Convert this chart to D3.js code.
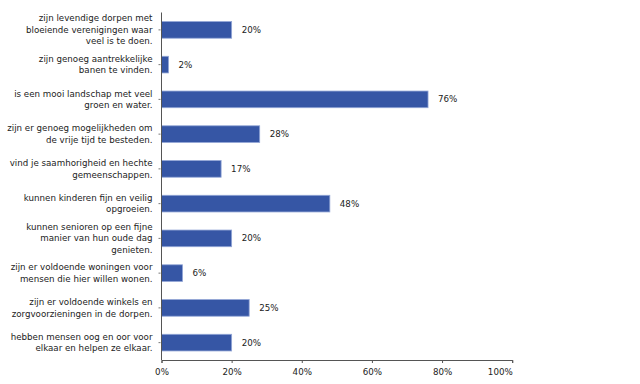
<!DOCTYPE html>
<html>
<head>
<meta charset="utf-8">
<script src="https://cdn.jsdelivr.net/npm/d3@7"></script>
<style>
  body { margin: 0; background: #fff; }
  text { font-family: "DejaVu Sans", sans-serif; fill: #222; }
</style>
</head>
<body>
<div id="chart"></div>
<script>
const CATEGORIES = [
    ["zijn levendige dorpen met", "bloeiende verenigingen waar", "veel is te doen."],
    ["zijn genoeg aantrekkelijke", "banen te vinden."],
    ["is een mooi landschap met veel", "groen en water."],
    ["zijn er genoeg mogelijkheden om", "de vrije tijd te besteden."],
    ["vind je saamhorigheid en hechte", "gemeenschappen."],
    ["kunnen kinderen fijn en veilig", "opgroeien."],
    ["kunnen senioren op een fijne", "manier van hun oude dag", "genieten."],
    ["zijn er voldoende woningen voor", "mensen die hier willen wonen."],
    ["zijn er voldoende winkels en", "zorgvoorzieningen in de dorpen."],
    ["hebben mensen oog en oor voor", "elkaar en helpen ze elkaar."]
];
const VALUES = [20, 2, 76, 28, 17, 48, 20, 6, 25, 20];
const X_TICKS = [0, 20, 40, 60, 80, 100];

const WIDTH = 640, HEIGHT = 384;
const MARGIN = { top: 12.5, right: 128, bottom: 24, left: 161.5 };
const FONT_SIZE = "8.7px";

const svg = d3.select("#chart").append("svg")
    .attr("width", WIDTH)
    .attr("height", HEIGHT);

const g = svg.append("g")
    .attr("transform", `translate(${MARGIN.left},${MARGIN.top})`);

const w = WIDTH - MARGIN.left - MARGIN.right + 0.2;
const h = HEIGHT - MARGIN.top - MARGIN.bottom;

const idx = d3.range(CATEGORIES.length);

const xScale = d3.scaleLinear().domain([0, 100]).range([0, w]);
const yScale = d3.scaleBand().domain(idx).range([0, h]).paddingInner(0.52).paddingOuter(0.26);

// bars
g.selectAll("rect.bar")
    .data(idx)
    .join("rect")
    .attr("class", "bar")
    .attr("x", 0)
    .attr("y", i => yScale(i))
    .attr("width", i => xScale(VALUES[i]))
    .attr("height", yScale.bandwidth())
    .attr("fill", "#3656a5")
    .attr("stroke", "#93a6d6")
    .attr("stroke-width", 0.8);

// value labels
g.selectAll("text.val")
    .data(idx)
    .join("text")
    .attr("class", "val")
    .attr("x", i => xScale(VALUES[i]) + 10)
    .attr("y", i => yScale(i) + yScale.bandwidth() / 2)
    .attr("dy", "0.35em")
    .style("font-size", FONT_SIZE)
    .text(i => VALUES[i] + "%");

// y axis
const yAxisEl = g.append("g");
yAxisEl.append("line")
    .attr("x1", 0).attr("x2", 0)
    .attr("y1", 0).attr("y2", h)
    .attr("stroke", "#555");
yAxisEl.selectAll("line.tick")
    .data(idx)
    .join("line")
    .attr("class", "tick")
    .attr("x1", -3).attr("x2", -1)
    .attr("y1", i => yScale(i) + yScale.bandwidth() / 2)
    .attr("y2", i => yScale(i) + yScale.bandwidth() / 2)
    .attr("stroke", "#777");

// category labels
const LINE_H = 11.5;
yAxisEl.selectAll("text.cat")
    .data(idx)
    .join("text")
    .attr("class", "cat")
    .attr("text-anchor", "end")
    .style("font-size", FONT_SIZE)
    .each(function (i) {
        const lines = CATEGORIES[i];
        const cy = yScale(i) + yScale.bandwidth() / 2;
        const y0 = cy - (lines.length - 1) * LINE_H / 2;
        d3.select(this).selectAll("tspan")
            .data(lines)
            .join("tspan")
            .attr("x", -9)
            .attr("y", (d, k) => y0 + k * LINE_H)
            .attr("dy", "0.35em")
            .text(d => d);
    });

// x axis
const xAxis = d3.axisBottom(xScale)
    .tickValues(X_TICKS)
    .tickSize(3)
    .tickFormat(d => d + "%");
const xAxisEl = g.append("g")
    .attr("transform", `translate(0,${h})`)
    .call(xAxis);
xAxisEl.select(".domain").attr("stroke", "#555");
xAxisEl.selectAll(".tick line").attr("stroke", "#555");
xAxisEl.selectAll(".tick text")
    .attr("y", 9)
    .attr("text-anchor", d => d === 100 ? "end" : "middle")
    .style("font-size", FONT_SIZE)
    .style("font-family", "DejaVu Sans, sans-serif")
    .attr("fill", "#222");
</script>
</body>
</html>
